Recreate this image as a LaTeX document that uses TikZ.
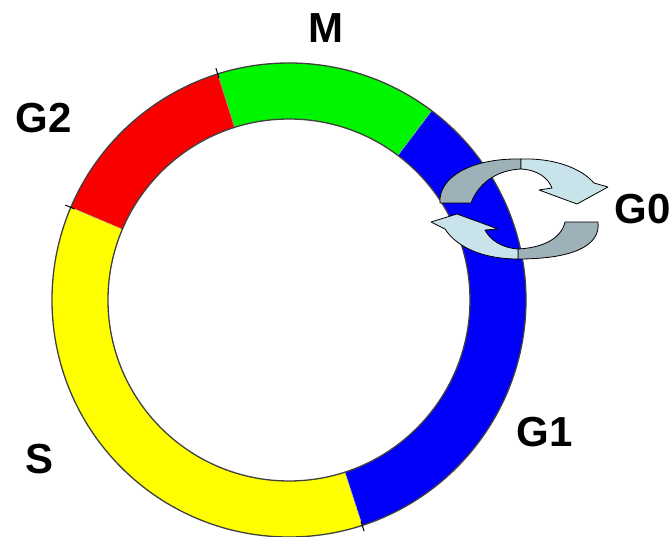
\documentclass[tikz,border=0pt]{standalone}
\usepackage{fontspec}
\setmainfont{Liberation Sans}
\definecolor{ringblue}{RGB}{0,0,250}
\definecolor{ringgreen}{RGB}{0,245,0}
\definecolor{ringred}{RGB}{250,0,0}
\definecolor{ringyellow}{RGB}{255,255,0}
\definecolor{arrowdark}{RGB}{158,176,184}
\definecolor{arrowlight}{RGB}{200,228,234}
\begin{document}
\begin{tikzpicture}[x=1pt,y=-1pt,
  rim/.style={draw=black!75,line width=1.3pt},
  sep/.style={draw=gray!70,densely dotted,line width=0.9pt},
  tickmark/.style={draw=black,line width=1pt},
  lbl/.style={font=\fontsize{42}{42}\selectfont\bfseries,inner sep=0pt},
  darkpart/.style={fill=arrowdark,draw=black,line width=0.8pt,line join=round},
  lightpart/.style={fill=arrowlight,draw=black,line width=0.8pt,line join=round}]
\useasboundingbox (0,0) rectangle (670,537);
\fill[white] (0,0) rectangle (670,537);

% ring
\begin{scope}[shift={(289,300)}]
  \fill[ringblue] (72:237) arc[start angle=72,end angle=-53,radius=237]
     -- (-53:181) arc[start angle=-53,end angle=72,radius=181] -- cycle;
  \fill[ringgreen] (-53:237) arc[start angle=-53,end angle=-107.5,radius=237]
     -- (-107.5:181) arc[start angle=-107.5,end angle=-53,radius=181] -- cycle;
  \fill[ringred] (-107.5:237) arc[start angle=-107.5,end angle=-157,radius=237]
     -- (-157:181) arc[start angle=-157,end angle=-107.5,radius=181] -- cycle;
  \fill[ringyellow] (-157:237) arc[start angle=-157,end angle=-288,radius=237]
     -- (-288:181) arc[start angle=-288,end angle=-157,radius=181] -- cycle;
  \foreach \a in {-53,-107.5,-157,72} {
    \draw[sep] (\a:181) -- (\a:237);
  }
  \draw[rim] (0,0) circle[radius=237];
  \draw[rim] (0,0) circle[radius=181];
  \foreach \a in {-107.5,-157,72} {
    \draw[tickmark] (\a:233) -- (\a:243);
  }
\end{scope}

% G0 circular arrows: upper arrow
\path[darkpart] (440,203) .. controls (438,178) and (470,158) .. (521,159)
   -- (521,169) .. controls (500,170) and (480,180) .. (471,203) -- cycle;
\path[lightpart] (521,159) .. controls (552,158) and (580,167) .. (594,183)
   -- (608,187) -- (577,204) -- (539,190) -- (552,188)
   .. controls (548,178) and (538,170) .. (521,169) -- cycle;
% lower arrow
\path[darkpart] (598,222) .. controls (601,247) and (570,259) .. (518,259)
   -- (518,249) .. controls (540,248) and (561,240) .. (565,222) -- cycle;
\path[lightpart] (518,259) .. controls (486,259) and (458,249) .. (445,229)
   -- (431,222) -- (457,214) -- (498,229) -- (485,230)
   .. controls (490,240) and (502,248) .. (518,249) -- cycle;

% labels
\node[lbl] (M) at (326,28) {M};
\node[lbl] (G2) at (44,118) {G2};
\node[lbl] (S) at (40,459) {S};
\node[lbl] (G1) at (545,432) {G1};
\node[lbl] (G0) at (643,209) {G0};
\end{tikzpicture}
\end{document}
